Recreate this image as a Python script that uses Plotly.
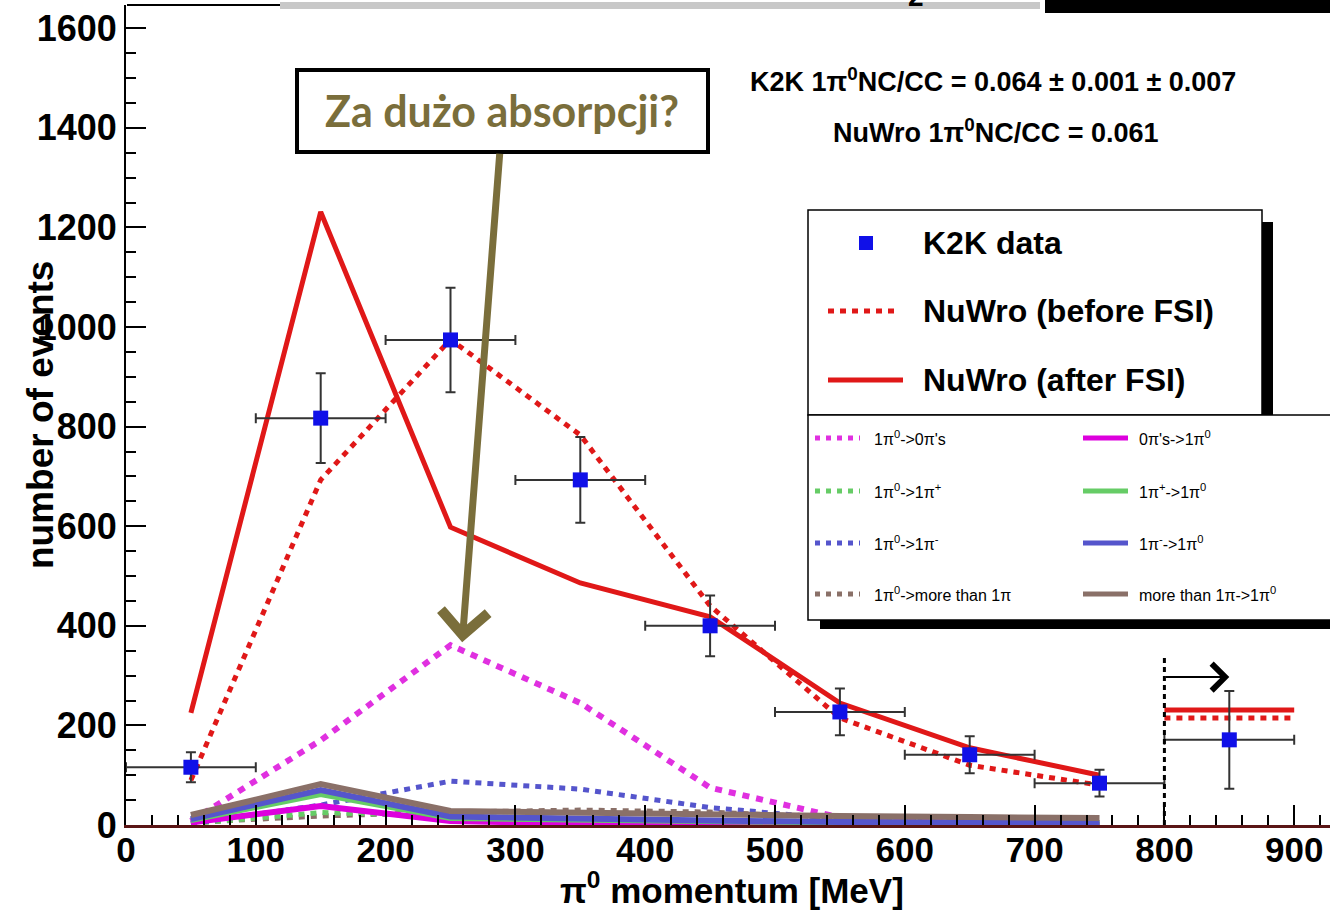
import plotly.graph_objects as go

# ---------------- data ----------------
bin_centers = [50, 150, 250, 350, 450, 550, 650, 750]

k2k_x = [50, 150, 250, 350, 450, 550, 650, 750, 850]
k2k_y = [116, 817, 974, 693, 400, 227, 141, 84, 171]
k2k_err_y = [30, 90, 105, 86, 61, 47, 37, 27, 98]
k2k_err_x = [50, 50, 50, 50, 50, 50, 50, 50, 50]

nuwro_before = [90, 693, 975, 783, 440, 215, 120, 80]
nuwro_after = [225, 1231, 598, 486, 418, 245, 155, 100]
overflow_x = [800, 900]
overflow_before = 215
overflow_after = 231

pi0_to_0pi = [8, 170, 361, 245, 75, 15, 5, 3]
pi0_to_1pip = [3, 25, 18, 12, 6, 3, 2, 1]
pi0_to_1pim = [3, 40, 88, 72, 35, 12, 5, 2]
pi0_to_more = [5, 18, 26, 30, 26, 15, 10, 5]
zero_to_pi0 = [5, 38, 8, 3, 2, 1, 1, 0]
pip_to_pi0 = [10, 62, 14, 10, 7, 5, 4, 3]
pim_to_pi0 = [12, 70, 17, 12, 9, 6, 5, 4]
more_to_pi0 = [20, 82, 28, 24, 20, 18, 16, 14]

x_ticks = [0, 100, 200, 300, 400, 500, 600, 700, 800, 900]
y_ticks = [0, 200, 400, 600, 800, 1000, 1200, 1400, 1600]

cut_x = 800
cut_top = 341
arrow_y = 297
arrow_end = 850
annot_point = (259, 367)
annot_tail = (288, 1351)

# ---------------- style ----------------
RED = "#e01818"
MAG = "#e030e0"
GRN = "#66cc66"
BLU = "#5555cc"
BRN = "#8a7068"
OLIVE = "#7a6e3b"
FONT = "Liberation Sans"

W_PX, H_PX = 1330, 911
L, R, T, B = 126, 1330, 5, 825


def px(x):
    return (x - L) / (R - L)


def py(y):
    return (B - y) / (B - T)


fig = go.Figure()


def line_trace(xs, ys, color, width, dash="solid"):
    fig.add_trace(go.Scatter(x=xs, y=ys, mode="lines",
                             line=dict(color=color, width=width, dash=dash),
                             hoverinfo="skip", showlegend=False))


dotdash = "6px,6px"
# background small components, dotted
line_trace(bin_centers, pi0_to_more, BRN, 5, dotdash)
line_trace(bin_centers, pi0_to_1pip, GRN, 5, dotdash)
line_trace(bin_centers, pi0_to_1pim, BLU, 5, dotdash)
line_trace(bin_centers, pi0_to_0pi, MAG, 6, "7px,7px")
# solid components
line_trace(bin_centers, zero_to_pi0, "#dd00dd", 6)
line_trace(bin_centers, pip_to_pi0, GRN, 6)
line_trace(bin_centers, pim_to_pi0, BLU, 6)
line_trace(bin_centers, more_to_pi0, BRN, 6)
# main NuWro curves
line_trace(bin_centers, nuwro_before, RED, 5, dotdash)
line_trace(bin_centers, nuwro_after, RED, 5)
line_trace(overflow_x, [overflow_before] * 2, RED, 5, dotdash)
line_trace(overflow_x, [overflow_after] * 2, RED, 5)

# K2K data
fig.add_trace(go.Scatter(
    x=k2k_x, y=k2k_y, mode="markers",
    marker=dict(symbol="square", size=15, color="#1010e8"),
    error_x=dict(type="data", array=k2k_err_x, color="#333333", thickness=2, width=5),
    error_y=dict(type="data", array=k2k_err_y, color="#333333", thickness=2, width=5),
    hoverinfo="skip", showlegend=False))

shapes = []
annots = []


def text(label, x, y, size, color="black", family=FONT, weight="normal",
         xanchor="center", yanchor="middle", **kw):
    annots.append(dict(text=label, xref="paper", yref="paper", x=px(x), y=py(y),
                       xanchor=xanchor, yanchor=yanchor, showarrow=False,
                       font=dict(size=size, color=color, family=family, weight=weight), **kw))


# top strip remnants
shapes.append(dict(type="line", xref="paper", yref="paper", x0=px(127), x1=px(280),
                   y0=py(5), y1=py(5), line=dict(color="black", width=2)))
shapes.append(dict(type="rect", xref="paper", yref="paper", x0=px(280), x1=px(1040),
                   y0=py(9), y1=py(2), fillcolor="#c8c8c8", line=dict(width=0)))
shapes.append(dict(type="rect", xref="paper", yref="paper", x0=px(1045), x1=px(1330),
                   y0=py(13), y1=py(0), fillcolor="black", line=dict(width=0)))
text("2", 916, 14, 28, weight="bold", yanchor="bottom")

# cut line + arrow
shapes.append(dict(type="line", xref="x", yref="y", x0=cut_x, x1=cut_x, y0=0, y1=cut_top,
                   line=dict(color="black", width=3, dash="5px,4px")))
annots.append(dict(text="", x=arrow_end, y=arrow_y, ax=cut_x, ay=arrow_y,
                   xref="x", yref="y", axref="x", ayref="y", showarrow=True,
                   arrowhead=4, arrowsize=2.6, arrowwidth=2, arrowcolor="black"))

# text box with question
shapes.append(dict(type="rect", xref="paper", yref="paper", x0=px(297), x1=px(708),
                   y0=py(152), y1=py(70), fillcolor="white",
                   line=dict(color="black", width=4), layer="above"))
text("Za dużo absorpcji?", 502, 110, 43, color=OLIVE, family="Lato", weight="bold")
annots.append(dict(text="", x=annot_point[0], y=annot_point[1], ax=annot_tail[0], ay=annot_tail[1],
                   xref="x", yref="y", axref="x", ayref="y", showarrow=True,
                   arrowhead=4, arrowsize=1.3, arrowwidth=7, arrowcolor=OLIVE))

# ratio text
text("K2K 1π<sup>0</sup>NC/CC = 0.064 ± 0.001 ± 0.007", 993, 80, 27, weight="bold")
text("NuWro 1π<sup>0</sup>NC/CC = 0.061", 996, 131, 27, weight="bold")

# legend box 1
shapes.append(dict(type="rect", xref="paper", yref="paper", x0=px(1262), x1=px(1273),
                   y0=py(415), y1=py(222), fillcolor="black", line=dict(width=0), layer="above"))
shapes.append(dict(type="rect", xref="paper", yref="paper", x0=px(808), x1=px(1262),
                   y0=py(415), y1=py(210), fillcolor="white",
                   line=dict(color="black", width=1.5), layer="above"))
# legend box 2
shapes.append(dict(type="rect", xref="paper", yref="paper", x0=px(820), x1=px(1330),
                   y0=py(629), y1=py(620), fillcolor="black", line=dict(width=0), layer="above"))
shapes.append(dict(type="rect", xref="paper", yref="paper", x0=px(808), x1=px(1345),
                   y0=py(620), y1=py(415), fillcolor="white",
                   line=dict(color="black", width=1.5), layer="above"))

# legend 1 entries
shapes.append(dict(type="rect", xref="paper", yref="paper", x0=px(859), x1=px(873),
                   y0=py(250), y1=py(236), fillcolor="#1010e8", line=dict(width=0), layer="above"))
shapes.append(dict(type="line", xref="paper", yref="paper", x0=px(828), x1=px(900),
                   y0=py(311), y1=py(311), line=dict(color=RED, width=5, dash=dotdash), layer="above"))
shapes.append(dict(type="line", xref="paper", yref="paper", x0=px(828), x1=px(903),
                   y0=py(380), y1=py(380), line=dict(color=RED, width=5), layer="above"))
for label, yy in [("K2K data", 243), ("NuWro (before FSI)", 311), ("NuWro (after FSI)", 380)]:
    text(label, 921, yy, 32, weight="bold", xanchor="left")

# legend 2 entries
rows = [438, 491, 543, 594]
left_entries = [("1π<sup>0</sup>->0π's", MAG), ("1π<sup>0</sup>->1π<sup>+</sup>", GRN),
                ("1π<sup>0</sup>->1π<sup>-</sup>", BLU), ("1π<sup>0</sup>->more than 1π", BRN)]
right_entries = [("0π's->1π<sup>0</sup>", "#dd00dd"), ("1π<sup>+</sup>->1π<sup>0</sup>", GRN),
                 ("1π<sup>-</sup>->1π<sup>0</sup>", BLU), ("more than 1π->1π<sup>0</sup>", BRN)]
for yy, (lab, col) in zip(rows, left_entries):
    shapes.append(dict(type="line", xref="paper", yref="paper", x0=px(815), x1=px(860),
                       y0=py(yy), y1=py(yy), line=dict(color=col, width=5, dash="5px,6px"), layer="above"))
    text(lab, 872, yy, 16, xanchor="left")
for yy, (lab, col) in zip(rows, right_entries):
    shapes.append(dict(type="line", xref="paper", yref="paper", x0=px(1083), x1=px(1128),
                       y0=py(yy), y1=py(yy), line=dict(color=col, width=5), layer="above"))
    text(lab, 1137, yy, 16, xanchor="left")

# axis titles
text("number of events", 40, 415, 37, weight="bold", textangle=-90)
text("π<sup>0</sup> momentum [MeV]", 732, 888, 35, weight="bold")

fig.update_layout(
    width=W_PX, height=H_PX,
    margin=dict(l=L, r=W_PX - R, t=T, b=H_PX - B),
    paper_bgcolor="white", plot_bgcolor="white",
    font=dict(family=FONT, color="black"),
    showlegend=False,
    shapes=shapes, annotations=annots,
    xaxis=dict(range=[0, (R - L) / 1.298], tickvals=x_ticks, ticks="inside", ticklen=20,
               tickwidth=2, tickcolor="black", showline=True, linecolor="#5a1515",
               linewidth=3, showgrid=False, zeroline=False, ticklabelstandoff=-8,
               tickfont=dict(size=35, family=FONT, weight="bold", color="black"),
               minor=dict(dtick=20, tick0=0, ticks="inside", ticklen=10, tickwidth=2,
                          tickcolor="black", showgrid=False)),
    yaxis=dict(range=[0, (B - T) / 0.498], tickvals=y_ticks, ticks="inside", ticklen=20,
               tickwidth=2, tickcolor="black", showline=True, linecolor="black",
               linewidth=2, showgrid=False, zeroline=False,
               tickfont=dict(size=36, family=FONT, weight="bold", color="black"),
               minor=dict(dtick=50, tick0=0, ticks="inside", ticklen=10, tickwidth=2,
                          tickcolor="black", showgrid=False)),
)

fig.write_html("out.html", config={"displayModeBar": False},
               post_script="document.body.style.margin='0';document.body.style.padding='0';")
